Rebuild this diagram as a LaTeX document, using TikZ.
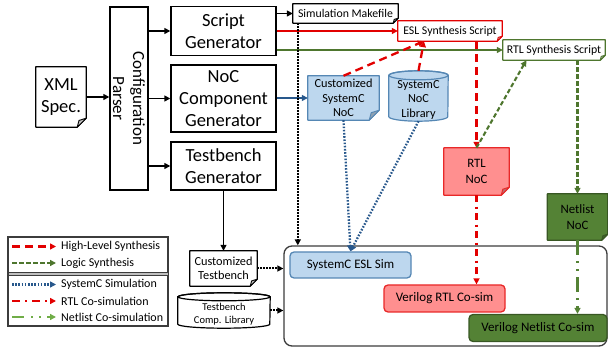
\documentclass[tikz,border=0pt]{standalone}
\usepackage{fontspec}
\setmainfont{Carlito}
\usetikzlibrary{arrows.meta,backgrounds,calc}

\definecolor{hlsred}{RGB}{226,0,0}
\definecolor{lsgreen}{RGB}{78,118,46}
\definecolor{scblue}{RGB}{40,88,140}
\definecolor{netgreen}{RGB}{112,173,71}
\definecolor{ltblue}{RGB}{189,215,238}
\definecolor{ltblueedge}{RGB}{85,135,180}
\definecolor{ltred}{RGB}{255,143,143}
\definecolor{rededge}{RGB}{232,40,40}
\definecolor{dkgreen}{RGB}{84,130,53}
\definecolor{dkgreenedge}{RGB}{56,87,35}
\definecolor{frame}{RGB}{60,60,60}

% folded-corner document outline behind a named node
\newcommand\docfold[4]{%
  \begin{pgfonlayer}{background}
    \draw[draw=#3, fill=#4, line width=1.2pt, line join=round]
      (#1.north west) -- (#1.north east) -- ([yshift=#2]#1.south east)
      -- ([xshift=-#2]#1.south east) -- (#1.south west) -- cycle;
    \draw[draw=#3, fill=#4!75!black, line width=0.9pt, line join=round]
      ([yshift=#2]#1.south east) -- ([xshift=-#2]#1.south east)
      -- ([xshift=-0.8*#2, yshift=0.75*#2]#1.south east) -- cycle;
  \end{pgfonlayer}}

% upright cylinder behind a named node: name, half width, ellipse radius, edge, fill
\newcommand\cylfill[5]{%
  \begin{pgfonlayer}{background}
    \draw[draw=#4, fill=#5, line width=1.2pt]
      ([yshift=-#3]#1.north west) -- ([yshift=#3]#1.south west)
      arc[start angle=180, end angle=360, x radius=#2, y radius=#3]
      -- ([yshift=-#3]#1.north east)
      arc[start angle=0, end angle=180, x radius=#2, y radius=#3] -- cycle;
    \draw[draw=#4, line width=1.2pt] ([yshift=-#3]#1.north)
      ellipse[x radius=#2, y radius=#3];
  \end{pgfonlayer}}

\tikzset{
  plain/.style={inner sep=0pt, align=center, text=black},
  genbox/.style={plain, draw=black, line width=1.4pt, minimum width=105pt,
    font=\fontsize{18.5}{22}\selectfont},
  docnode/.style={plain},
  simnode/.style={plain, rounded corners=4pt, line width=1.3pt,
    font=\fontsize{13}{15}\selectfont},
  tip/.style={-{Triangle[length=6pt,width=6pt]}},
  blackarrow/.style={tip, line width=1.7pt, black},
  blackdots/.style={tip, line width=2pt, black, dash pattern=on 1.5pt off 1.5pt},
  hlsline/.style={tip, line width=2.3pt, hlsred, dash pattern=on 8pt off 5pt},
  lsline/.style={tip, line width=2.1pt, lsgreen, dash pattern=on 4.5pt off 2.5pt},
  scline/.style={tip, line width=2.3pt, scblue, dash pattern=on 1.6pt off 1.6pt},
  rtlline/.style={tip, line width=2.1pt, hlsred, dash pattern=on 7pt off 4.5pt on 2pt off 4.5pt},
  netline/.style={tip, line width=2.1pt, dkgreen, dash pattern=on 15pt off 6pt on 2pt off 6pt on 2pt off 6pt},
  netlegend/.style={tip, line width=2.1pt, netgreen},
  legtext/.style={plain, anchor=west, font=\fontsize{12}{14}\selectfont},
}

\begin{document}
\begin{tikzpicture}[x=1pt, y=-1pt]
\useasboundingbox (0,0) rectangle (608,352);

% ---- input and generators
\node[docnode, minimum width=50pt, minimum height=60pt,
  font=\fontsize{18.5}{22}\selectfont] (xml) at (61,97) {XML\\Spec.};
\docfold{xml}{9pt}{black}{white}

\node[plain, draw=black, line width=1.4pt, minimum width=38pt, minimum height=183pt]
  (parser) at (129,98.5) {};
\node[plain, rotate=-90, font=\fontsize{17}{20}\selectfont] (parsertext)
  at (parser.center) {Configuration\\Parser};

\node[genbox, minimum height=49pt] (sg) at (223.5,31) {Script\\Generator};
\node[genbox, minimum height=67pt] (ncg) at (223.5,98.5) {NoC\\Component\\Generator};
\node[genbox, minimum height=48pt] (tg) at (223.5,166) {Testbench\\Generator};

% ---- scripts
\node[docnode, minimum width=105pt, minimum height=19pt,
  font=\fontsize{11.8}{13}\selectfont] (mk) at (345.5,13.5) {Simulation Makefile};
\docfold{mk}{5pt}{black}{white}
\node[docnode, minimum width=104pt, minimum height=20pt,
  font=\fontsize{11.8}{13}\selectfont] (esl) at (450,31) {ESL Synthesis Script};
\docfold{esl}{5pt}{hlsred}{white}
\node[docnode, minimum width=102pt, minimum height=20pt,
  font=\fontsize{11.8}{13}\selectfont] (rtls) at (554,50) {RTL Synthesis Script};
\docfold{rtls}{5pt}{lsgreen}{white}

% ---- NoC sources and netlists
\node[docnode, minimum width=71pt, minimum height=44pt,
  font=\fontsize{12.3}{14.5}\selectfont] (csn) at (343.5,98) {Customized\\SystemC\\NoC};
\docfold{csn}{10pt}{ltblueedge}{ltblue}

\node[plain, minimum width=59pt, minimum height=50pt,
  label={[plain, yshift=-4pt, font=\fontsize{12.3}{14.5}\selectfont]center:SystemC\\NoC\\Library}]
  (lib) at (418.5,96) {};
\cylfill{lib}{29.5pt}{4.5pt}{ltblueedge}{ltblue}

\node[docnode, minimum width=65pt, minimum height=47pt,
  font=\fontsize{12.8}{16}\selectfont] (rtlnoc) at (476.5,171.5) {RTL\\NoC};
\docfold{rtlnoc}{8pt}{rededge}{ltred}

\node[docnode, minimum width=60pt, minimum height=46pt,
  font=\fontsize{12.8}{16}\selectfont] (netnoc) at (577.5,217) {Netlist\\NoC};
\docfold{netnoc}{6pt}{dkgreenedge}{dkgreen}

% ---- testbench
\node[docnode, minimum width=67pt, minimum height=35pt,
  font=\fontsize{12.3}{14.5}\selectfont] (ctb) at (223.5,268.5) {Customized\\Testbench};
\docfold{ctb}{7pt}{black}{white}

\node[plain, minimum width=92pt, minimum height=35pt,
  label={[plain, yshift=-3.5pt, font=\fontsize{10.5}{12.5}\selectfont]center:Testbench\\Comp. Library}]
  (tblib) at (224,310.5) {};
\cylfill{tblib}{46pt}{4pt}{black}{white}

% ---- simulation frame
\node[plain, draw=frame, line width=1.3pt, rounded corners=8pt,
  minimum width=323pt, minimum height=100pt] (simbox) at (445.5,296) {};
\node[simnode, draw=ltblueedge, fill=ltblue, minimum width=121pt, minimum height=26pt]
  (esim) at (350.5,265) {SystemC ESL Sim};
\node[simnode, draw=rededge, fill=ltred, minimum width=121pt, minimum height=27pt]
  (rsim) at (444.5,298.5) {Verilog RTL Co-sim};
\node[simnode, draw=dkgreenedge, fill=dkgreen, minimum width=138pt, minimum height=27pt]
  (nsim) at (538,328) {Verilog Netlist Co-sim};

% ---- generator connectors
\draw[blackarrow] (xml.east) -- (xml.east -| parser.west);
\draw[blackarrow] (sg.west -| parser.east) -- (sg.west);
\draw[blackarrow] (ncg.west -| parser.east) -- (ncg.west);
\draw[blackarrow] (tg.west -| parser.east) -- (tg.west);
\draw[blackarrow] (mk.west -| sg.east) -- (mk.west);
\draw[tip, line width=2.1pt, hlsred] (esl.west -| sg.east) -- (esl.west);
\draw[tip, line width=2.1pt, lsgreen] (rtls.west -| sg.east) -- (rtls.west);
\draw[tip, line width=2.1pt, scblue] (csn.west -| ncg.east) -- (csn.west);
\draw[blackarrow] (tg.south) -- (ctb.north);

% ---- synthesis flow
\coordinate (eslin) at ($(esl.south west)!0.25!(esl.south east)$);
\coordinate (rtlsin) at ($(rtls.south west)!0.23!(rtls.south east)$);
\draw[hlsline] (csn.north) -- (eslin);
\draw[hlsline] (lib.north) -- (eslin);
\draw[hlsline] (rtlnoc.north |- esl.south) -- (rtlnoc.north);
\draw[lsline] (rtlnoc.north) -- (rtlsin);
\draw[lsline] (netnoc.north |- rtls.south) -- (netnoc.north);

% ---- simulation flow
\draw[blackdots] ([xshift=5pt]mk.south west) -- ([xshift=5pt]mk.south west |- simbox.north);
\draw[scline] (csn.south) -- (esim.north);
\draw[scline] (lib.south) -- (esim.north);
\draw[rtlline] (rtlnoc.south) -- (rtlnoc.south |- rsim.north);
\draw[netline] (netnoc.south) -- (netnoc.south |- nsim.north);
\draw[blackdots] (ctb.east) -- (ctb.east -| simbox.west);
\draw[blackdots] (tblib.east) -- (tblib.east -| simbox.west);

% ---- legend
\node[plain, draw=frame, line width=1.3pt, minimum width=160pt, minimum height=89pt]
  (legend) at (88,281.5) {};
\draw[frame, fill=black!25, line width=1pt] (8,272.5) rectangle (168,275.5);
\node[legtext] (lg1) at (61,246.5) {High-Level Synthesis};
\node[legtext] (lg2) at (61,263) {Logic Synthesis};
\node[legtext] (lg3) at (61,284.5) {SystemC Simulation};
\node[legtext] (lg4) at (61,301) {RTL Co-simulation};
\node[legtext] (lg5) at (61,317) {Netlist Co-simulation};
\draw[hlsline] ([xshift=-49pt]lg1.west) -- ([xshift=-5pt]lg1.west);
\draw[lsline] ([xshift=-49pt]lg2.west) -- ([xshift=-5pt]lg2.west);
\draw[scline] ([xshift=-49pt]lg3.west) -- ([xshift=-5pt]lg3.west);
\draw[rtlline, dash pattern=on 8pt off 5pt on 2pt off 5pt] ([xshift=-49pt]lg4.west) -- ([xshift=-5pt]lg4.west);
\draw[netlegend, dash pattern=on 12pt off 7pt on 2pt off 6pt on 2pt off 6pt] ([xshift=-49pt]lg5.west) -- ([xshift=-5pt]lg5.west);
\end{tikzpicture}
\end{document}
